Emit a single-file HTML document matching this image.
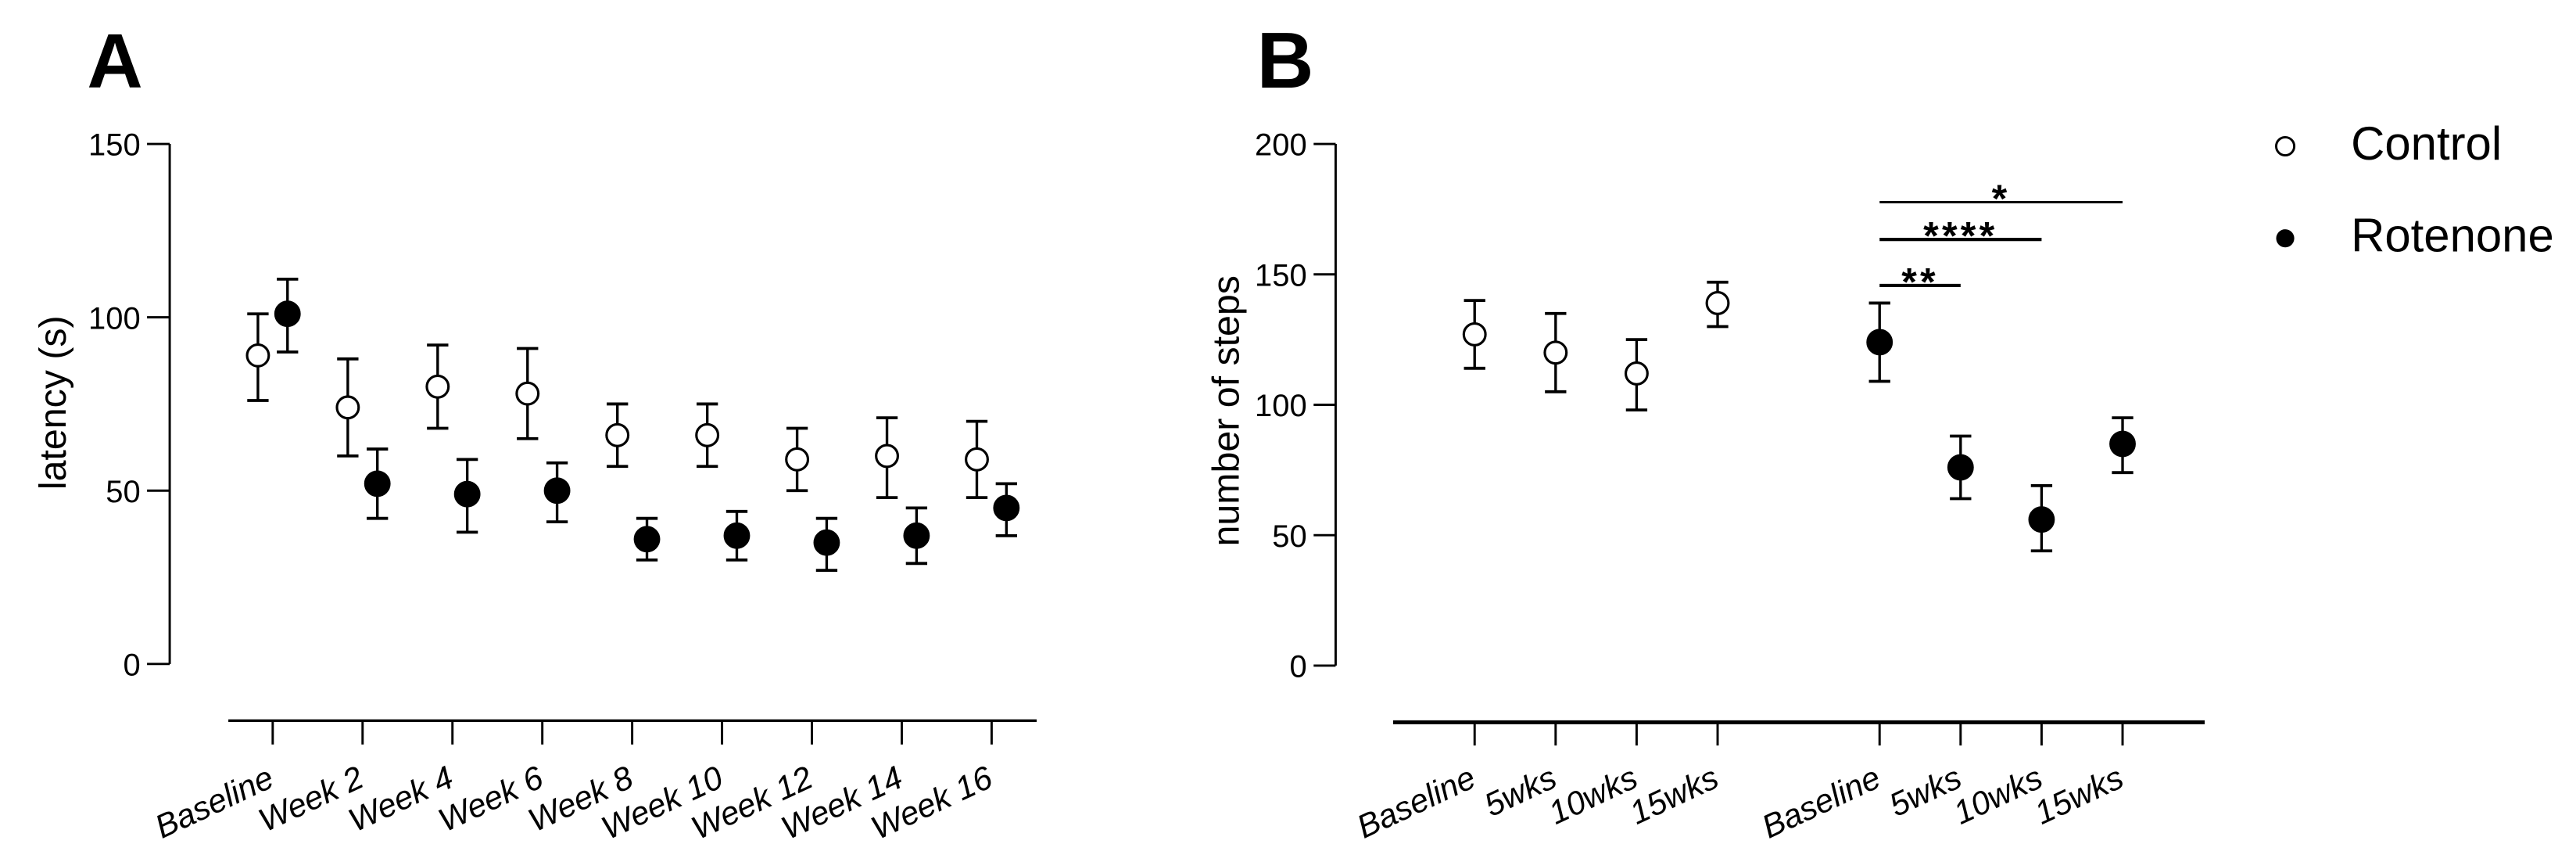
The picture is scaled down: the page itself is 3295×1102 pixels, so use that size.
<!DOCTYPE html>
<html><head><meta charset="utf-8"><style>
html,body{margin:0;padding:0;background:#fff;}
svg{display:block;}
text{font-family:"Liberation Sans",Arial,sans-serif;fill:#000;}
</style></head><body>
<svg id="fig" width="3295" height="1102" viewBox="0 0 1568 524.5" preserveAspectRatio="none" xmlns="http://www.w3.org/2000/svg">
<text x="53" y="53.3" font-size="47" font-weight="bold">A</text>
<text x="765" y="53.3" font-size="48" font-weight="bold">B</text>
<text transform="translate(40,245) rotate(-90)" text-anchor="middle" font-size="23">latency (s)</text>
<text transform="translate(754,250) rotate(-90)" text-anchor="middle" font-size="23">number of steps</text>
<g id="gA"></g>
<g id="gB"></g>
<g>
<circle cx="1391" cy="89" r="5.5" fill="#fff" stroke="#000" stroke-width="1.4"/>
<text x="1431" y="97" font-size="28.5">Control</text>
<circle cx="1391" cy="145" r="5.5" fill="#000"/>
<text x="1431" y="153" font-size="28.5">Rotenone</text>
</g>
</svg>
<script>
// Panel A data
const catsA = ["Baseline","Week 2","Week 4","Week 6","Week 8","Week 10","Week 12","Week 14","Week 16"];
const ctrlA = [89,74,80,78,66,66,59,60,59];
const ctrlAHi = [101,88,92,91,75,75,68,71,70];
const ctrlALo = [76,60,68,65,57,57,50,48,48];
const rotA = [101,52,49,50,36,37,35,37,45];
const rotAHi = [111,62,59,58,42,44,42,45,52];
const rotALo = [90,42,38,41,30,30,27,29,37];
const ticksA = [0,50,100,150];
// Panel B data
const catsB = ["Baseline","5wks","10wks","15wks","Baseline","5wks","10wks","15wks"];
const ctrlB = [127,120,112,139];
const ctrlBHi = [140,135,125,147];
const ctrlBLo = [114,105,98,130];
const rotB = [124,76,56,85];
const rotBHi = [139,88,69,95];
const rotBLo = [109,64,44,74];
const ticksB = [0,50,100,150,200];
const sigLabels = ["*","****","**"];
const sigFrom = [4,4,4];
const sigTo = [7,6,5];

const NS="http://www.w3.org/2000/svg";
function mk(parent,tag,attrs){const e=document.createElementNS(NS,tag);for(const k in attrs)e.setAttribute(k,attrs[k]);parent.appendChild(e);return e;}

const gA=document.getElementById('gA');
const yA=v=>404-(v/150)*316.4;
const xA=i=>166+i*54.7;
mk(gA,'line',{x1:103.3,y1:yA(150),x2:103.3,y2:yA(0),stroke:'#000','stroke-width':1.4});
ticksA.forEach(t=>{
  const l=mk(gA,'line',{x1:89.5,x2:103.3,y1:yA(t),y2:yA(t),stroke:'#000','stroke-width':1.4});
  
  
  const tx=mk(gA,'text',{x:85.5,y:yA(t)+7,'text-anchor':'end','font-size':19});
  tx.textContent=t;
  
  
});
mk(gA,'line',{x1:139,x2:631,y1:438.5,y2:438.5,stroke:'#000','stroke-width':1.6});
catsA.forEach((c,i)=>{
  const l=mk(gA,'line',{x1:xA(i),x2:xA(i),y1:438.5,y2:453,stroke:'#000','stroke-width':1.4});
  
  
  const tx=mk(gA,'text',{transform:`translate(${xA(i)+2},478) rotate(-25)`,'text-anchor':'end','font-size':20,'font-style':'italic'});
  tx.textContent=c;
  
  
});
function point(g,x,y,v,hi,lo,filled,name){
  const grp=mk(g,'g',{});
  
  
  mk(grp,'line',{x1:x,x2:x,y1:y(hi),y2:y(lo),stroke:'#000','stroke-width':1.6});
  mk(grp,'line',{x1:x-6.5,x2:x+6.5,y1:y(hi),y2:y(hi),stroke:'#000','stroke-width':1.8});
  mk(grp,'line',{x1:x-6.5,x2:x+6.5,y1:y(lo),y2:y(lo),stroke:'#000','stroke-width':1.8});
  mk(grp,'circle',{cx:x,cy:y(v),r:filled?7.3:6.6,fill:filled?'#000':'#fff',stroke:'#000','stroke-width':1.5});
}
catsA.forEach((c,i)=>{
  point(gA,xA(i)-9,yA,ctrlA[i],ctrlAHi[i],ctrlALo[i],false,'panel-a-control-point');
  point(gA,xA(i)+9,yA,rotA[i],rotAHi[i],rotALo[i],true,'panel-a-rotenone-point');
});

const gB=document.getElementById('gB');
const yB=v=>405-(v/200)*317.4;
const xB=i=>897.6+(i<4?i:i+1)*49.3;
mk(gB,'line',{x1:813,y1:yB(200),x2:813,y2:yB(0),stroke:'#000','stroke-width':1.4});
ticksB.forEach(t=>{
  const l=mk(gB,'line',{x1:799.6,x2:813,y1:yB(t),y2:yB(t),stroke:'#000','stroke-width':1.4});
  
  
  const tx=mk(gB,'text',{x:795.5,y:yB(t)+7,'text-anchor':'end','font-size':19});
  tx.textContent=t;
  
  
});
mk(gB,'line',{x1:848,x2:1342,y1:439.5,y2:439.5,stroke:'#000','stroke-width':2.4});
catsB.forEach((c,i)=>{
  const l=mk(gB,'line',{x1:xB(i),x2:xB(i),y1:439.5,y2:453.6,stroke:'#000','stroke-width':1.4});
  
  
  const tx=mk(gB,'text',{transform:`translate(${xB(i)+2},478) rotate(-25)`,'text-anchor':'end','font-size':20,'font-style':'italic'});
  tx.textContent=c;
  
  
});
ctrlB.forEach((v,i)=>point(gB,xB(i),yB,v,ctrlBHi[i],ctrlBLo[i],false,'panel-b-control-point'));
rotB.forEach((v,i)=>point(gB,xB(i+4),yB,v,rotBHi[i],rotBLo[i],true,'panel-b-rotenone-point'));
const sigY=[123,145.7,173.7];
sigLabels.forEach((s,k)=>{
  const x1=xB(sigFrom[k]),x2=xB(sigTo[k]);
  const l=mk(gB,'line',{x1:x1,x2:x2,y1:sigY[k],y2:sigY[k],stroke:'#000','stroke-width':k==0?1.4:2});
  
  
  const tx=mk(gB,'text',{x:(x1+x2)/2,y:sigY[k]+6,'text-anchor':'middle','font-size':24,'font-weight':'bold','letter-spacing':'2'});
  tx.textContent=s;
  
  
});
</script>
</body></html>
